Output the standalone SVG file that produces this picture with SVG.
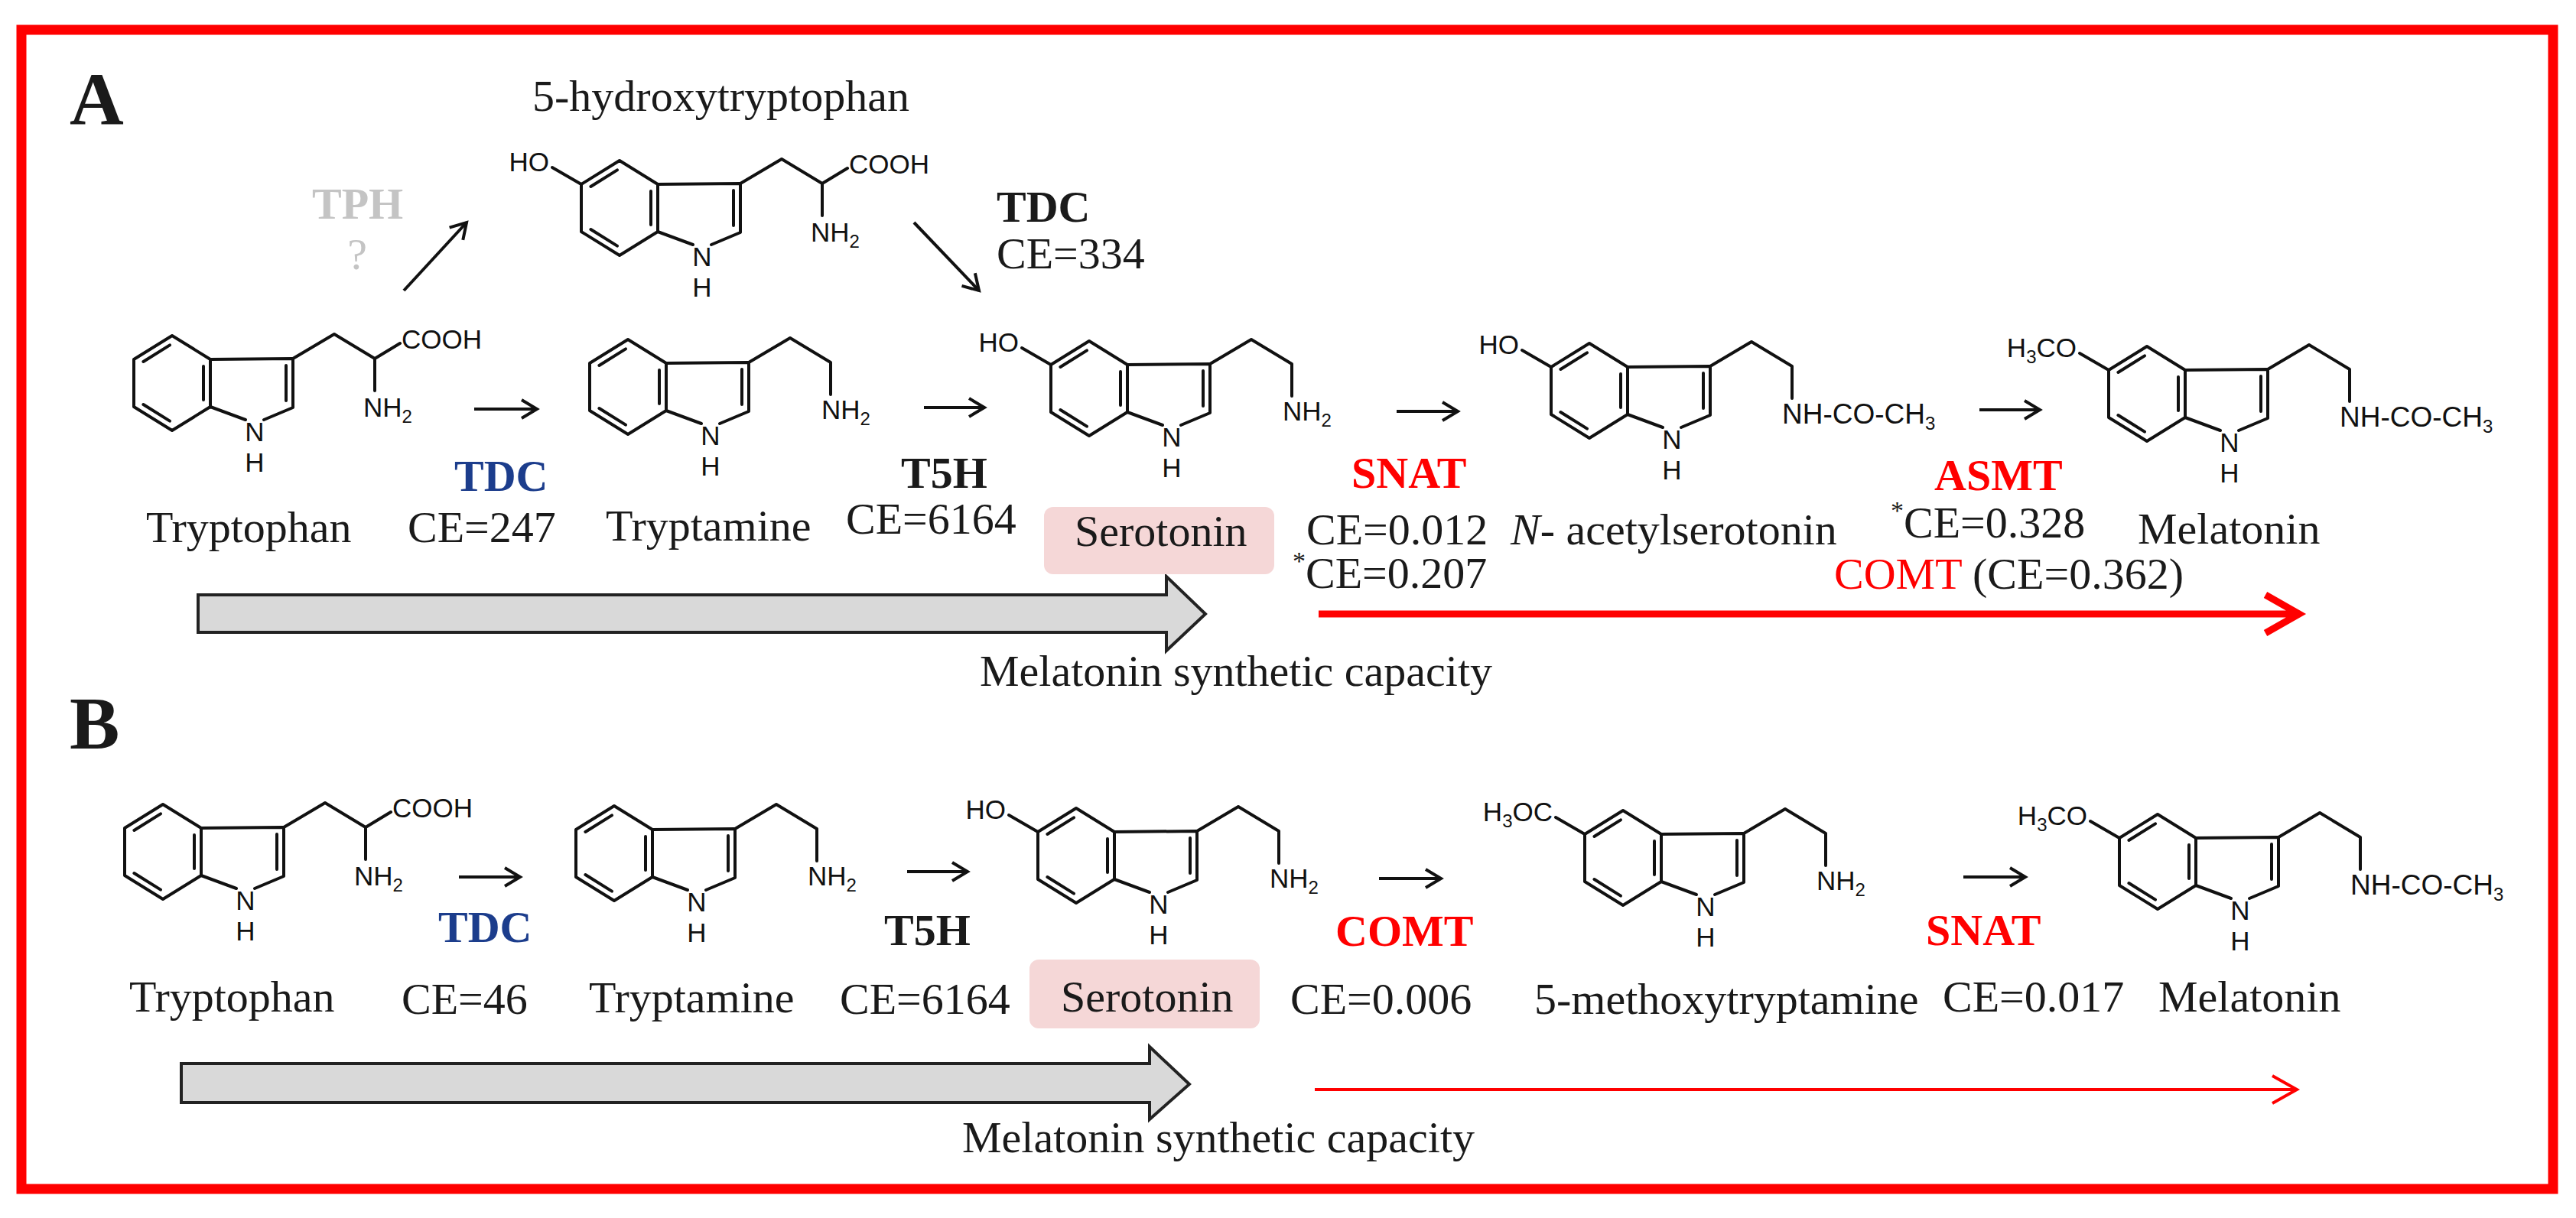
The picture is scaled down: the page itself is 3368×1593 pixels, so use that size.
<svg xmlns="http://www.w3.org/2000/svg" xmlns:xlink="http://www.w3.org/1999/xlink" width="3368" height="1593" viewBox="0 0 3368 1593">
<style>
.b{fill:none;stroke:#111;stroke-width:4;stroke-linecap:round;stroke-linejoin:round}
.at{font-family:"Liberation Sans",Arial,sans-serif;font-size:35px;fill:#111}
.sub{font-size:24px}
.t{font-family:"Liberation Serif","Times New Roman",serif;font-size:58px;fill:#1a1a1a}
.bd{font-weight:bold}
.red{fill:#ff0000}
.blue{fill:#1c3d8c}
.ar{fill:none;stroke:#111;stroke-width:4}
.pink{fill:#f5d7d7}
.gray{fill:#d9d9d9;stroke:#222;stroke-width:4}
</style>
<defs>
<marker id="op" viewBox="-24 -16 28 32" refX="0" refY="0" markerWidth="28" markerHeight="32" markerUnits="userSpaceOnUse" orient="auto">
<path d="M-20,-12 L0,0 L-20,12" fill="none" stroke="#111" stroke-width="4"/>
</marker>
<g id="indole">
<path class="b" d="M50,-31 L0,-62 L-50,-31 L-50,31 L0,62 L50,31 Z M50,-31 L158,-32 L158,32 L120,48 M50,31 L96,48 M-3,-49.6 L-37.6,-28 M-37.6,28 L-3,49.6 M41,-22 L41,22 M149,-23 L149,23"/>
<text class="at" x="108" y="76" text-anchor="middle">N</text>
<text class="at" x="108" y="116" text-anchor="middle">H</text>
</g>
<path id="ethyl" class="b" d="M158,-32 L212,-64 L265,-32 L265,10"/>
<path id="trpchain" class="b" d="M158,-32 L212,-64 L265,-32 L298,-52 M265,-32 L265,10"/>
<path id="o5" class="b" d="M-50,-31 L-88,-53"/>
</defs>

<rect x="28" y="39" width="3310" height="1516" fill="none" stroke="#ff0000" stroke-width="13"/>

<text class="t bd" x="91" y="162" style="font-size:98px">A</text>
<text class="t bd" x="91" y="979" style="font-size:98px">B</text>

<g id="trpA" transform="translate(225,501)">
<use href="#indole"/><use href="#trpchain"/>
<text class="at" x="300" y="-45">COOH</text>
<text class="at" x="250" y="44">NH<tspan class="sub" dy="8">2</tspan></text>
</g>
<g id="htpA" transform="translate(810,272)">
<use href="#indole"/><use href="#trpchain"/><use href="#o5"/>
<text class="at" x="-92" y="-48" text-anchor="end">HO</text>
<text class="at" x="300" y="-45">COOH</text>
<text class="at" x="250" y="44">NH<tspan class="sub" dy="8">2</tspan></text>
</g>
<g id="tryA" transform="translate(821,506)">
<use href="#indole"/><use href="#ethyl"/>
<text class="at" x="253" y="42">NH<tspan class="sub" dy="8">2</tspan></text>
</g>
<g id="seroA" transform="translate(1424,508)">
<use href="#indole"/><use href="#ethyl"/><use href="#o5"/>
<text class="at" x="-92" y="-48" text-anchor="end">HO</text>
<text class="at" x="253" y="42">NH<tspan class="sub" dy="8">2</tspan></text>
</g>
<g id="nasA" transform="translate(2078,511)">
<use href="#indole"/><use href="#ethyl"/><use href="#o5"/>
<text class="at" x="-92" y="-48" text-anchor="end">HO</text>
<text class="at" x="252" y="43" style="font-size:37px">NH-CO-CH<tspan class="sub" dy="8">3</tspan></text>
</g>
<g id="melA" transform="translate(2807,515)">
<use href="#indole"/><use href="#ethyl"/><use href="#o5"/>
<text class="at" x="-92" y="-48" text-anchor="end">H<tspan class="sub" dy="8">3</tspan><tspan dy="-8">CO</tspan></text>
<text class="at" x="252" y="43" style="font-size:37px">NH-CO-CH<tspan class="sub" dy="8">3</tspan></text>
</g>

<g id="trpB" transform="translate(213,1114)">
<use href="#indole"/><use href="#trpchain"/>
<text class="at" x="300" y="-45">COOH</text>
<text class="at" x="250" y="44">NH<tspan class="sub" dy="8">2</tspan></text>
</g>
<g id="tryB" transform="translate(803,1116)">
<use href="#indole"/><use href="#ethyl"/>
<text class="at" x="253" y="42">NH<tspan class="sub" dy="8">2</tspan></text>
</g>
<g id="seroB" transform="translate(1407,1119)">
<use href="#indole"/><use href="#ethyl"/><use href="#o5"/>
<text class="at" x="-92" y="-48" text-anchor="end">HO</text>
<text class="at" x="253" y="42">NH<tspan class="sub" dy="8">2</tspan></text>
</g>
<g id="mtB" transform="translate(2122,1122)">
<use href="#indole"/><use href="#ethyl"/><use href="#o5"/>
<text class="at" x="-92" y="-48" text-anchor="end">H<tspan class="sub" dy="8">3</tspan><tspan dy="-8">OC</tspan></text>
<text class="at" x="253" y="42">NH<tspan class="sub" dy="8">2</tspan></text>
</g>
<g id="melB" transform="translate(2821,1127)">
<use href="#indole"/><use href="#ethyl"/><use href="#o5"/>
<text class="at" x="-92" y="-48" text-anchor="end">H<tspan class="sub" dy="8">3</tspan><tspan dy="-8">CO</tspan></text>
<text class="at" x="252" y="43" style="font-size:37px">NH-CO-CH<tspan class="sub" dy="8">3</tspan></text>
</g>

<g id="connectors">
<line class="ar" x1="528" y1="380" x2="610" y2="291" marker-end="url(#op)"/>
<line class="ar" x1="1195" y1="291" x2="1280" y2="380" marker-end="url(#op)"/>
<line class="ar" x1="620" y1="535" x2="702" y2="535" marker-end="url(#op)"/>
<line class="ar" x1="1208" y1="533" x2="1287" y2="533" marker-end="url(#op)"/>
<line class="ar" x1="1826" y1="538" x2="1906" y2="538" marker-end="url(#op)"/>
<line class="ar" x1="2588" y1="536" x2="2667" y2="536" marker-end="url(#op)"/>
<line class="ar" x1="600" y1="1147" x2="680" y2="1147" marker-end="url(#op)"/>
<line class="ar" x1="1186" y1="1140" x2="1265" y2="1140" marker-end="url(#op)"/>
<line class="ar" x1="1803" y1="1149" x2="1884" y2="1149" marker-end="url(#op)"/>
<line class="ar" x1="2567" y1="1147" x2="2648" y2="1147" marker-end="url(#op)"/>
<polygon class="gray" points="259,778 1525,778 1525,754 1576,803 1525,851 1525,827 259,827"/>
<polygon class="gray" points="237,1391 1503,1391 1503,1369 1555,1418 1503,1464 1503,1442 237,1442"/>
<path d="M1724,803 L3000,803 M2962,778 L3006,803 L2962,828" fill="none" stroke="#ff0000" stroke-width="9"/>
<path d="M1719,1425 L3000,1425 M2971,1407 L3003,1425 L2971,1443" fill="none" stroke="#ff0000" stroke-width="4"/>
</g>

<text class="t" x="696" y="145">5-hydroxytryptophan</text>
<text class="t bd" x="408" y="286" style="fill:#c4c4c4">TPH</text>
<text class="t" x="467" y="352" text-anchor="middle" style="fill:#c4c4c4">?</text>
<text class="t bd" x="1303" y="290">TDC</text>
<text class="t" x="1303" y="351">CE=334</text>
<text class="t bd blue" x="594" y="642">TDC</text>
<text class="t" x="533" y="709">CE=247</text>
<text class="t" x="191" y="709">Tryptophan</text>
<text class="t" x="792" y="707">Tryptamine</text>
<text class="t bd" x="1178" y="638">T5H</text>
<text class="t" x="1106" y="698">CE=6164</text>
<rect class="pink" x="1365" y="663" width="301" height="88" rx="12"/>
<text class="t" x="1405" y="714">Serotonin</text>
<text class="t bd red" x="1767" y="638">SNAT</text>
<text class="t" x="1708" y="712">CE=0.012</text>
<text class="t" x="1690" y="769"><tspan style="font-size:34px" dy="-24">*</tspan><tspan dy="24">CE=0.207</tspan></text>
<text class="t" x="1975" y="712"><tspan font-style="italic">N</tspan>- acetylserotonin</text>
<text class="t bd red" x="2529" y="641">ASMT</text>
<text class="t" x="2472" y="703"><tspan style="font-size:34px" dy="-24">*</tspan><tspan dy="24">CE=0.328</tspan></text>
<text class="t" x="2795" y="711">Melatonin</text>
<text class="t" x="2398" y="770"><tspan class="red">COMT</tspan> (CE=0.362)</text>
<text class="t" x="1281" y="897">Melatonin synthetic capacity</text>

<text class="t bd blue" x="573" y="1232">TDC</text>
<text class="t" x="525" y="1326">CE=46</text>
<text class="t" x="169" y="1323">Tryptophan</text>
<text class="t" x="770" y="1324">Tryptamine</text>
<text class="t bd" x="1156" y="1236">T5H</text>
<text class="t" x="1098" y="1326">CE=6164</text>
<rect class="pink" x="1346" y="1255" width="301" height="90" rx="12"/>
<text class="t" x="1387" y="1323">Serotonin</text>
<text class="t bd red" x="1746" y="1237">COMT</text>
<text class="t" x="1687" y="1326">CE=0.006</text>
<text class="t" x="2006" y="1326">5-methoxytryptamine</text>
<text class="t bd red" x="2518" y="1236">SNAT</text>
<text class="t" x="2540" y="1323">CE=0.017</text>
<text class="t" x="2822" y="1323">Melatonin</text>
<text class="t" x="1258" y="1507">Melatonin synthetic capacity</text>
</svg>
